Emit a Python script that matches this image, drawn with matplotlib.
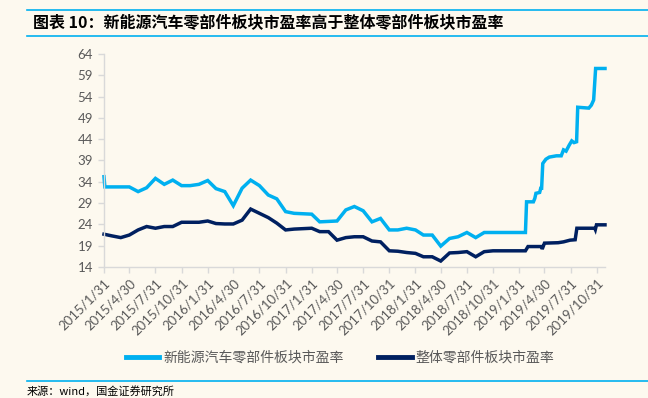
import matplotlib
matplotlib.use("Agg")
import matplotlib.pyplot as plt
import pandas as pd
from matplotlib.lines import Line2D

plt.rcParams["font.family"] = ["Noto Sans CJK SC", "DejaVu Sans"]

# month-end points 2015-01 .. 2018-12, then finer points through 2019
monthly_dates = pd.date_range("2015-01-31", "2018-12-31", freq="ME")

nev_monthly = [35.2, 32.8, 32.8, 32.8, 31.7, 32.6, 34.8, 33.4, 34.4, 33.1, 33.1, 33.4,
               34.3, 32.4, 31.7, 28.4, 32.5, 34.4, 33.1, 30.9, 30.0, 27.0, 26.6, 26.5,
               26.4, 24.6, 24.7, 24.8, 27.4, 28.2, 27.2, 24.6, 25.4, 22.7, 22.7, 23.1,
               22.7, 21.5, 21.5, 18.9, 20.7, 21.1, 22.1, 20.9, 22.1, 22.1, 22.1, 22.1]
all_monthly = [21.7, 21.3, 20.9, 21.5, 22.7, 23.5, 23.1, 23.5, 23.5, 24.5, 24.5, 24.5,
               24.8, 24.2, 24.1, 24.1, 25.0, 27.6, 26.6, 25.6, 24.3, 22.7, 22.9, 23.0,
               23.1, 22.3, 22.3, 20.3, 20.9, 21.1, 21.1, 20.1, 19.9, 17.8, 17.7, 17.4,
               17.2, 16.4, 16.4, 15.4, 17.3, 17.4, 17.6, 16.4, 17.6, 17.8, 17.8, 17.8]

nev_2019_dates = ["2019-01-31", "2019-02-22", "2019-02-26", "2019-03-22", "2019-03-27",
                  "2019-03-31", "2019-04-13", "2019-04-17", "2019-04-20", "2019-04-24",
                  "2019-05-05", "2019-05-17", "2019-06-11", "2019-06-28", "2019-07-06",
                  "2019-07-15", "2019-07-26", "2019-08-04", "2019-08-12", "2019-08-21",
                  "2019-08-25", "2019-10-03", "2019-10-12", "2019-10-20", "2019-10-27",
                  "2019-11-29"]
nev_2019 = [22.1, 22.1, 29.3, 29.3, 30.1, 31.3, 31.5, 32.5, 32.5, 38.3,
            39.3, 39.8, 40.1, 40.1, 41.5, 41.2, 42.6, 43.6, 43.2, 43.4,
            51.5, 51.3, 52.0, 53.2, 60.6, 60.6]

all_2019_dates = ["2019-01-31", "2019-02-22", "2019-03-03", "2019-04-20", "2019-04-22",
                  "2019-04-30", "2019-06-17", "2019-07-06", "2019-07-29", "2019-08-16",
                  "2019-08-22", "2019-10-24", "2019-10-26", "2019-10-30", "2019-11-29"]
all_2019 = [17.8, 17.8, 18.8, 18.8, 18.2, 19.6, 19.7, 19.9, 20.3, 20.4,
            23.1, 23.1, 22.8, 23.9, 23.9]

tick_labels = ["2015/1/31", "2015/4/30", "2015/7/31", "2015/10/31", "2016/1/31",
               "2016/4/30", "2016/7/31", "2016/10/31", "2017/1/31", "2017/4/30",
               "2017/7/31", "2017/10/31", "2018/1/31", "2018/4/30", "2018/7/31",
               "2018/10/31", "2019/1/31", "2019/4/30", "2019/7/31", "2019/10/31"]
y_ticks = [14, 19, 24, 29, 34, 39, 44, 49, 54, 59, 64]

title = "图表 10：新能源汽车零部件板块市盈率高于整体零部件板块市盈率"
series_names = ["新能源汽车零部件板块市盈率", "整体零部件板块市盈率"]
source = "来源：wind，国金证券研究所"

bg = "#FDF9EF"
light_blue = "#00B0F0"
navy = "#002060"
gray = "#595959"
axis_gray = "#D9D9D9"

nev_x = list(monthly_dates) + list(pd.to_datetime(nev_2019_dates[1:]))
nev_y = nev_monthly + nev_2019[1:]
all_x = list(monthly_dates) + list(pd.to_datetime(all_2019_dates[1:]))
all_y = all_monthly + all_2019[1:]
# the NEV series opens with a short spike right at the first date
nev_x.insert(1, pd.Timestamp("2015-02-03"))
nev_y.insert(1, 32.8)

fig = plt.figure(figsize=(6.48, 3.98), dpi=100, facecolor=bg)
ax = fig.add_axes([104 / 648, 1 - 267 / 398, 501 / 648, 213 / 398])
ax.set_facecolor(bg)

ax.plot(nev_x, nev_y, color=light_blue, lw=2.5, solid_joinstyle="miter", clip_on=False)
ax.plot(all_x, all_y, color=navy, lw=2.5, solid_joinstyle="miter", clip_on=False)

ax.set_ylim(14, 64)
ax.set_yticks(y_ticks)
ax.set_xlim(pd.Timestamp("2015-01-31"), pd.Timestamp("2019-11-29"))
tick_dates = pd.to_datetime(tick_labels, format="%Y/%m/%d")
ax.set_xticks(tick_dates)
ax.set_xticklabels(tick_labels, rotation=45, ha="right", va="top", rotation_mode="anchor")

for s in ["top", "right"]:
    ax.spines[s].set_visible(False)
for s in ["left", "bottom"]:
    ax.spines[s].set_color(axis_gray)
    ax.spines[s].set_linewidth(1.0)
ax.tick_params(axis="both", colors=axis_gray, length=4, width=1.0, direction="out")
ax.tick_params(axis="y", labelcolor=gray, labelsize=9.5, pad=4)
ax.tick_params(axis="x", labelcolor=gray, labelsize=9.5, pad=3)
for lab in ax.get_xticklabels() + ax.get_yticklabels():
    lab.set_family(["Lato", "DejaVu Sans"])

# header with rules
fig.add_artist(Line2D([27 / 648, 1], [1 - 10 / 398] * 2, color=light_blue, lw=1.2))
fig.add_artist(Line2D([27 / 648, 1], [1 - 36 / 398] * 2, color=light_blue, lw=1.2))
fig.text(33 / 648, 1 - 22 / 398, title, fontsize=11.5, fontweight="bold",
         fontstyle="italic", color="black", va="center", ha="left")

# legend
leg_handles = [Line2D([], [], color=light_blue, lw=3.5), Line2D([], [], color=navy, lw=3.5)]
fig.legend(leg_handles, series_names, loc="center", bbox_to_anchor=(340 / 648, 1 - 358 / 398),
           ncol=2, frameon=False, fontsize=10, labelcolor=gray, handlelength=2.4,
           handletextpad=0.3, columnspacing=2.5)

# footer
fig.add_artist(Line2D([27 / 648, 1], [1 - 381 / 398] * 2, color=light_blue, lw=1.2))
fig.text(27 / 648, 1 - 391 / 398, source, fontsize=8, color="black", va="center", ha="left")

fig.savefig("out.png", dpi=100, facecolor=bg)
